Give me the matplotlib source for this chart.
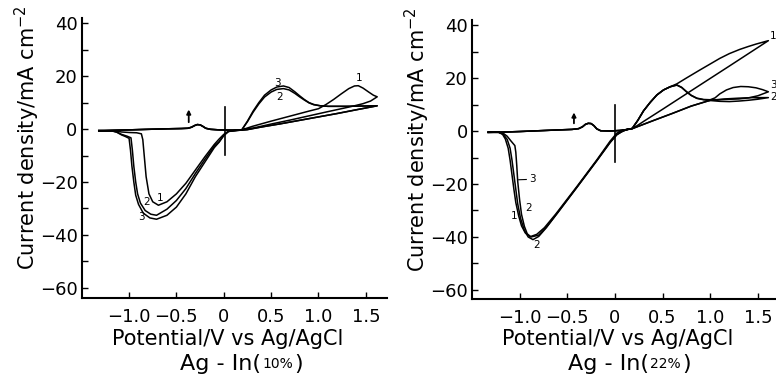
import matplotlib
matplotlib.use('Agg')
import matplotlib.pyplot as plt

# ---------------- Ag-In (10 %) ----------------
# positive sweep from the cathodic limit, common to all cycles
sweep10_E = [-1.32, -1.2, -1.0, -0.8, -0.6, -0.45, -0.38, -0.34, -0.31, -0.28, -0.25, -0.22, -0.19, -0.14, -0.05, 0.05, 0.12, 0.19]
sweep10_j = [-0.6, -0.5, -0.3, -0.1, 0.1, 0.2, 0.3, 0.7, 1.3, 1.7, 1.6, 1.0, 0.3, -0.1, -0.3, -0.4, -0.4, -0.3]

# anodic part (forward + return) per cycle
ox10_1_E = [0.3, 0.5, 0.7, 0.9, 1.0, 1.08, 1.16, 1.24, 1.32, 1.38, 1.42, 1.47, 1.53, 1.58, 1.62,
            1.55, 1.47, 1.38, 1.28, 1.1, 0.9, 0.7, 0.5, 0.35, 0.25, 0.15]
ox10_1_j = [1.0, 3.0, 4.9, 6.8, 7.7, 9.3, 11.2, 13.3, 15.3, 16.3, 16.4, 15.5, 14.0, 12.8, 12.2,
            10.6, 9.6, 8.8, 8.0, 6.6, 5.0, 3.4, 1.9, 0.7, -0.1, -0.4]
ox10_2_E = [0.25, 0.31, 0.37, 0.43, 0.5, 0.56, 0.63, 0.69, 0.75, 0.8, 0.85, 0.9, 0.95, 1.02, 1.1, 1.3, 1.45, 1.62,
            1.4, 1.2, 1.0, 0.8, 0.6, 0.4, 0.25, 0.15]
ox10_2_j = [2.8, 6.4, 9.5, 12.1, 14.0, 15.0, 15.3, 14.8, 13.5, 12.2, 11.0, 9.9, 9.2, 8.8, 8.6, 8.6, 8.7, 8.8,
            7.3, 5.9, 4.6, 3.3, 2.0, 0.8, -0.2, -0.5]
ox10_3_E = [0.25, 0.31, 0.37, 0.43, 0.5, 0.56, 0.63, 0.69, 0.75, 0.8, 0.85, 0.9, 0.95, 1.02, 1.1, 1.3, 1.45, 1.62,
            1.4, 1.2, 1.0, 0.8, 0.6, 0.4, 0.25, 0.15]
ox10_3_j = [3.0, 6.8, 10.0, 12.8, 14.8, 15.9, 16.3, 15.7, 14.1, 12.6, 11.2, 10.0, 9.3, 8.8, 8.6, 8.6, 8.7, 8.8,
            7.3, 5.9, 4.6, 3.3, 2.0, 0.8, -0.2, -0.5]

# cathodic part per cycle
red10_1_E = [0.05, 0.0, -0.05, -0.1, -0.2, -0.3, -0.4, -0.5, -0.6, -0.69, -0.75, -0.79, -0.82, -0.84, -0.855, -0.87,
             -0.92, -1.0, -1.08, -1.15, -1.32]
red10_1_j = [-0.8, -2.0, -3.8, -5.8, -10.5, -15.5, -20.5, -24.5, -27.5, -28.8, -27.5, -24.5, -18.0, -10.0, -4.0, -1.8,
             -1.4, -1.3, -1.1, -0.7, -0.6]
red10_2_E = [0.05, 0.0, -0.05, -0.1, -0.2, -0.3, -0.4, -0.5, -0.6, -0.71, -0.77, -0.83, -0.88, -0.91, -0.93, -0.95,
             -0.965, -0.98, -1.02, -1.08, -1.13, -1.18, -1.32]
red10_2_j = [-0.9, -2.3, -4.8, -6.4, -11.5, -16.8, -22.5, -27.0, -30.3, -32.6, -32.2, -30.8, -28.0, -24.5, -20.0, -14.0,
             -8.0, -3.3, -2.7, -2.0, -1.1, -0.7, -0.6]
red10_3_E = [0.05, 0.0, -0.05, -0.1, -0.2, -0.3, -0.4, -0.5, -0.6, -0.71, -0.78, -0.85, -0.9, -0.93, -0.95, -0.97,
             -0.985, -1.0, -1.04, -1.08, -1.13, -1.18, -1.32]
red10_3_j = [-0.9, -2.5, -5.0, -7.0, -12.5, -18.0, -24.5, -29.5, -32.6, -34.1, -33.6, -31.8, -28.5, -25.0, -20.0, -14.0,
             -8.0, -3.5, -2.8, -2.2, -1.2, -0.7, -0.6]

# ---------------- Ag-In (22 %) ----------------
sweep22_E = [-1.33, -1.17, -1.0, -0.8, -0.6, -0.45, -0.38, -0.34, -0.31, -0.28, -0.25, -0.22, -0.19, -0.15, -0.05, 0.05, 0.12, 0.18]
sweep22_j = [-0.5, -0.4, -0.2, 0.1, 0.4, 0.6, 0.9, 1.6, 2.5, 2.9, 2.8, 2.0, 0.8, 0.1, 0.0, 0.2, 0.5, 0.9]

rise22_E = [0.24, 0.30, 0.37, 0.44, 0.51, 0.58]
rise22_j = [4.0, 7.6, 10.8, 13.6, 15.5, 16.7]

ox22_1_E = [0.65, 0.75, 0.89, 1.0, 1.1, 1.2, 1.31, 1.4, 1.48, 1.55, 1.61, 1.2, 0.8, 0.5, 0.3, 0.19]
ox22_1_j = [17.8, 20.0, 23.0, 25.3, 27.4, 29.2, 30.8, 31.9, 32.8, 33.5, 34.1, 24.5, 15.2, 8.2, 3.6, 1.0]
ox22_2_E = [0.65, 0.7, 0.75, 0.8, 0.86, 0.93, 1.0, 1.1, 1.2, 1.3, 1.4, 1.5, 1.61,
            1.45, 1.3, 1.15, 1.0, 0.8, 0.6, 0.4, 0.19]
ox22_2_j = [17.3, 16.4, 14.8, 13.4, 12.3, 11.8, 11.5, 11.2, 11.1, 11.3, 11.6, 12.0, 12.6,
            12.6, 12.4, 12.1, 11.6, 9.4, 6.6, 3.9, 1.0]
ox22_3_E = [0.65, 0.7, 0.75, 0.8, 0.86, 0.93, 1.0, 1.05, 1.1, 1.17, 1.24, 1.32, 1.4, 1.48, 1.55, 1.61,
            1.5, 1.4, 1.3, 1.15, 1.0, 0.8, 0.6, 0.4, 0.19]
ox22_3_j = [17.4, 16.5, 14.9, 13.5, 12.4, 11.9, 11.8, 12.5, 14.0, 15.5, 16.4, 16.8, 16.7, 16.3, 15.6, 14.8,
            13.3, 12.5, 12.1, 11.9, 11.6, 9.4, 6.6, 3.9, 1.0]

red22_1_E = [0.12, 0.08, 0.02, -0.05, -0.19, -0.40, -0.62, -0.74, -0.82, -0.89, -0.94, -0.98, -1.01, -1.04, -1.06,
             -1.08, -1.10, -1.12, -1.15, -1.18, -1.22, -1.33]
red22_1_j = [0.6, 0.2, -0.8, -3.8, -10.9, -21.0, -31.3, -36.5, -39.0, -39.9, -38.5, -35.8, -32.0, -27.0, -22.0,
             -16.5, -11.0, -6.5, -3.0, -1.2, -0.5, -0.5]
red22_2_E = [0.12, 0.07, 0.02, -0.05, -0.19, -0.40, -0.60, -0.72, -0.80, -0.86, -0.91, -0.95, -0.99, -1.02, -1.04,
             -1.06, -1.08, -1.10, -1.13, -1.17, -1.22, -1.33]
red22_2_j = [0.5, -0.3, -1.4, -4.3, -11.2, -21.3, -30.8, -36.5, -39.8, -41.0, -40.0, -37.5, -33.0, -27.5, -22.0,
             -16.5, -11.0, -6.5, -3.2, -1.3, -0.5, -0.5]
red22_3_E = [0.12, 0.07, 0.02, -0.05, -0.19, -0.40, -0.60, -0.72, -0.80, -0.88, -0.92, -0.95, -0.98, -1.0, -1.02,
             -1.03, -1.04, -1.05, -1.09, -1.13, -1.17, -1.22, -1.33]
red22_3_j = [0.5, -0.3, -1.4, -4.3, -11.2, -21.3, -30.8, -36.3, -39.3, -40.0, -38.8, -36.0, -31.5, -26.0, -19.0,
             -13.0, -8.0, -5.5, -3.8, -2.0, -0.9, -0.5, -0.5]

# cycle numbers written next to the curves
labels10 = [('1', -0.673, -26.2), ('2', -0.813, -27.4), ('3', -0.866, -33.1),
            ('3', 0.564, 17.5), ('2', 0.585, 12.0), ('1', 1.43, 19.2)]
labels22 = [('3', -0.866, -18.2), ('2', -0.908, -29.2), ('1', -1.054, -32.1), ('2', -0.82, -43.0),
            ('1', 1.66, 35.8), ('3', 1.66, 17.2), ('2', 1.66, 12.8)]

x_ticks = [-1.0, -0.5, 0, 0.5, 1.0, 1.5]
x_ticklabels = ['\u22121.0', '\u22120.5', '0', '0.5', '1.0', '1.5']
y_ticks = [40, 20, 0, -20, -40, -60]
y_ticklabels = ['40', '20', '0', '\u221220', '\u221240', '\u221260']
y_minor = [30, 10, -10, -30, -50]

plt.rcParams['font.family'] = ['DejaVu Sans']


def style_axes(ax, xlim, ylim):
    for side in ('top', 'right'):
        ax.spines[side].set_visible(False)
    for side in ('left', 'bottom'):
        ax.spines[side].set_linewidth(1.5)
    ax.set_xlim(*xlim)
    ax.set_ylim(*ylim)
    ax.set_xticks(x_ticks, x_ticklabels)
    ax.set_yticks(y_ticks, y_ticklabels)
    ax.set_yticks(y_minor, minor=True)
    ax.tick_params(which='both', direction='in', length=4, width=1)
    ax.tick_params(axis='x', pad=7, labelsize=13)
    ax.tick_params(axis='y', pad=3, labelsize=13)


def draw_panel(ax, sweep, cycles, marker, arrow, labels):
    for ox, red in cycles:
        E = sweep[0] + ox[0] + red[0]
        j = sweep[1] + ox[1] + red[1]
        ax.plot(E, j, color='black', lw=1.1, solid_joinstyle='round')
    ax.plot([marker[0], marker[0]], [marker[1], marker[2]], color='black', lw=1.2)
    ax.annotate('', xy=(arrow[0], arrow[2]), xytext=(arrow[0], arrow[1]),
                arrowprops=dict(arrowstyle='-|>', color='black', lw=1.3, mutation_scale=6,
                                shrinkA=0, shrinkB=0))
    for txt, x, y in labels:
        ax.text(x, y, txt, fontsize=7.5, ha='center', va='center', clip_on=False)


fig = plt.figure(figsize=(7.76, 3.75), dpi=100)
ax1 = fig.add_axes([0.1053, 0.2045, 0.393, 0.7475])
ax2 = fig.add_axes([0.6082, 0.2027, 0.3918, 0.744])

style_axes(ax1, (-1.50, 1.72), (-64.0, 42.0))
style_axes(ax2, (-1.50, 1.69), (-63.4, 41.9))

draw_panel(ax1, (sweep10_E, sweep10_j),
           [((ox10_1_E, ox10_1_j), (red10_1_E, red10_1_j)),
            ((ox10_2_E, ox10_2_j), (red10_2_E, red10_2_j)),
            ((ox10_3_E, ox10_3_j), (red10_3_E, red10_3_j))],
           (0.01, 8.5, -9.8), (-0.37, 2.6, 7.4), labels10)

draw_panel(ax2, (sweep22_E, sweep22_j),
           [((rise22_E + ox22_1_E, rise22_j + ox22_1_j), (red22_1_E, red22_1_j)),
            ((rise22_E + ox22_2_E, rise22_j + ox22_2_j), (red22_2_E, red22_2_j)),
            ((rise22_E + ox22_3_E, rise22_j + ox22_3_j), (red22_3_E, red22_3_j))],
           (0.0, 9.8, -11.6), (-0.43, 2.9, 7.0), labels22)
ax2.plot([-1.01, -0.93], [-18.4, -18.3], color='black', lw=0.8)

# axis titles
ylabel = 'Current density/mA cm$^{-2}$'
fig.text(27 / 776, 0.632, ylabel, rotation=90, ha='center', va='center', fontsize=15)
fig.text(417 / 776, 0.627, ylabel, rotation=90, ha='center', va='center', fontsize=15)
xlabel = 'Potential/V vs Ag/AgCl'
fig.text(227.5 / 776, 0.08, xlabel, ha='center', va='baseline', fontsize=15)
fig.text(617.5 / 776, 0.08, xlabel, ha='center', va='baseline', fontsize=15)

# alloy captions with the composition set smaller
for ax, x0, comp in ((ax1, 180 / 776, '10%'), (ax2, 568 / 776, '22%')):
    t1 = fig.text(x0, 0.013, 'Ag - In(', ha='left', va='baseline', fontsize=16)
    t2 = ax.annotate(comp, xy=(1.0, 0.0), xycoords=t1, xytext=(1, 2.5), textcoords='offset points',
                     ha='left', va='bottom', fontsize=10, annotation_clip=False)
    ax.annotate(')', xy=(1.0, 0.0), xycoords=t2, xytext=(1, -2.5), textcoords='offset points',
                ha='left', va='bottom', fontsize=16, annotation_clip=False)

fig.savefig('out.png', dpi=100)
